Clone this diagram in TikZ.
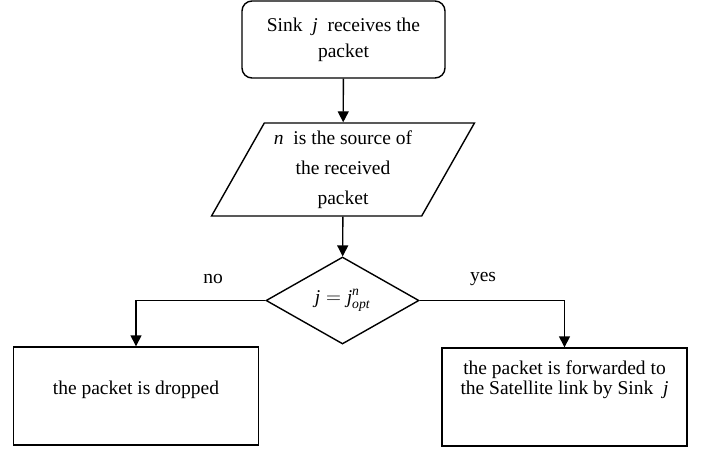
\documentclass[tikz,border=0pt]{standalone}
\usepackage{amsmath}
\usepackage{fontspec}
\setmainfont{Liberation Serif}
\usepackage{tikz}
\usetikzlibrary{arrows.meta,shapes.geometric}

\begin{document}
\begin{tikzpicture}[x=1pt,y=-1pt,line width=1.4pt,
    font=\fontsize{19.5}{26}\selectfont,
    startbox/.style={rectangle,draw,rounded corners=10pt,minimum width=203pt,minimum height=77pt,align=center},
    iobox/.style={trapezium,draw,trapezium left angle=61.3,trapezium right angle=118.7,
      trapezium stretches=true,minimum width=263pt,minimum height=93pt,inner xsep=0pt,align=center,
      font=\fontsize{19.5}{30}\selectfont},
    testbox/.style={diamond,draw,minimum width=153pt,minimum height=87pt,inner sep=0pt},
    endbox/.style={rectangle,draw,minimum width=245pt,minimum height=98pt},
    txt/.style={align=center,inner sep=0pt,font=\fontsize{19.5}{20}\selectfont},
    tip/.style={-{Triangle[length=11pt,width=11pt]}}]
  \useasboundingbox (0,0) rectangle (703,450);
  \node[startbox] (recv) at (343.5,39.5) {Sink \ \textit{j} \ receives the\\packet};
  \node[iobox] (src) at (343,169.5) {\textit{n} \ is the source of\\the received\\packet};
  \node[testbox] (test) at (342.5,300.5) {$\textit{j}=\textit{j}^{\textit{n}}_{\textit{opt}}$};
  \node[endbox] (drop) at (136,396) {};
  \node[endbox] (fwd) at (564.5,397) {};
  \node[txt,anchor=north] (droptext) at (136,380) {the packet is dropped};
  \node[txt,anchor=north] (fwdtext) at (564.5,360) {the packet is forwarded to\\the Satellite link by Sink \ \textit{j}};
  \node[txt] (no) at (213,279) {no};
  \node[txt] (yes) at (483,279) {yes};
  \foreach \source/\dest in {recv/src, src/test}
    \path[draw,tip] (\source) -- (\dest);
  \path[draw,tip] (test.west) -| (drop.north);
  \path[draw,tip] (test.east) -| (fwd.north);
\end{tikzpicture}
\end{document}
